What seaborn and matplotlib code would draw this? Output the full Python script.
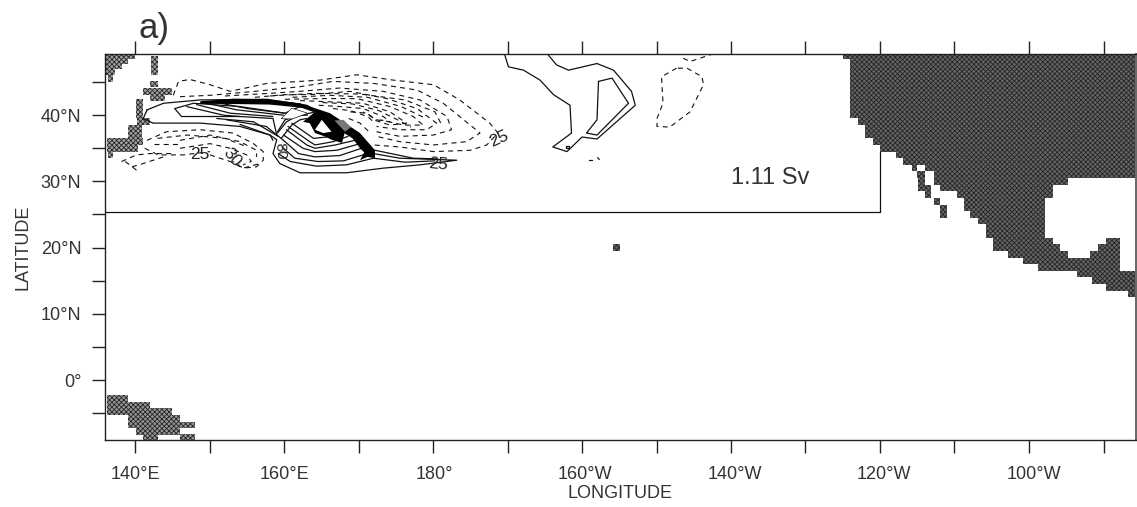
import pandas as pd
import matplotlib
matplotlib.use("Agg")
import matplotlib.pyplot as plt
from matplotlib.transforms import ScaledTranslation
import seaborn as sns

sns.set_theme(style="ticks")
plt.rcParams['font.family'] = ['Liberation Sans', 'DejaVu Sans']
plt.rcParams['hatch.linewidth'] = 0.6

xticks_major = [140, 160, 180, 200, 220, 240, 260]
xlabels = ["140°E", "160°E", "180°", "160°W", "140°W", "120°W", "100°W"]
xticks_minor = [150, 170, 190, 210, 230, 250, 270]
yticks_major = [0, 10, 20, 30, 40]
ylabels = ["0°", "10°N", "20°N", "30°N", "40°N"]
yticks_minor = [-5, 5, 15, 25, 35, 45]
label_shift = [0, 0, 1, 3, 4, 4, 5]

lon_scale = 7.5 / 7.45

# land cells: lat, west lon, east lon
east_land = [
    (49, 234.4, 273.4), (48, 235.4, 273.4), (47, 235.4, 273.4), (46, 235.4, 273.4),
    (45, 235.4, 273.4), (44, 235.4, 273.4), (43, 235.4, 273.4), (42, 235.4, 273.4),
    (41, 235.4, 273.4), (40, 235.4, 273.4), (39, 236.4, 273.4), (38, 237.3, 273.4),
    (37, 237.3, 273.4), (36, 238.4, 273.4), (35, 239.3, 273.4), (34, 241.5, 273.4),
    (33, 242.4, 273.4), (32, 243.6, 244.3), (32, 245.3, 273.4), (31, 244.3, 245.3),
    (31, 246.5, 273.4), (30, 244.4, 245.3), (30, 246.5, 264.4), (29, 244.4, 246.2),
    (29, 247.3, 262.4), (28, 245.3, 246.2), (28, 249.6, 262.4), (27, 246.5, 247.3),
    (27, 250.5, 261.3), (26, 247.4, 248.3), (26, 250.5, 261.3), (25, 247.4, 248.3),
    (25, 251.3, 261.3), (24, 252.4, 261.3), (23, 253.4, 261.3), (22, 253.4, 261.3),
    (21, 254.4, 262.4), (21, 269.5, 271.3), (20, 254.4, 263.3), (20, 268.4, 271.3),
    (19, 256.4, 264.4), (19, 267.4, 271.3), (18, 258.4, 271.3), (17, 260.4, 271.3),
    (16, 265.6, 273.4), (15, 267.6, 273.4), (14, 269.5, 273.4), (13, 272.4, 273.4),
]
west_land = [
    (49, 136.1, 140.0), (48.3, 136.1, 139.1), (47.4, 136.1, 138.2), (46.5, 136.1, 137.3),
    (45.5, 136.4, 137.1), (48.5, 142.1, 143.0), (47.5, 142.1, 143.0), (46.6, 142.1, 143.0),
    (44.7, 142.0, 143.0), (43.6, 141.1, 144.9), (42.6, 142.0, 144.0), (42, 140.1, 141.1),
    (41, 140.1, 141.1), (40, 140.1, 141.1), (39, 140.2, 142.0), (38, 139.1, 141.0),
    (37, 139.1, 141.0), (36, 136.2, 141.0), (35, 136.3, 140.4), (34, 136.4, 137.1),
]
south_land = [
    (-2.8, 136.2, 139.0), (-3.8, 136.2, 142.0), (-4.8, 136.2, 144.9), (-5.8, 139.1, 146.0),
    (-6.8, 139.1, 148.0), (-7.8, 140.1, 146.0), (-8.7, 141.1, 143.0), (-8.7, 146.0, 148.0),
]
hawaii = [(20, 203.7, 204.6)]

# solid contours
solid_outer = [(141.6, 40.8), (143.8, 41.8), (148.7, 42.3), (157.6, 42.4), (162.9, 41.5), (166.4, 39.3),
               (169.5, 36.8), (171.8, 34.2), (175.3, 33.5), (182.9, 33.2), (178.0, 32.5), (173.1, 32.0),
               (168.2, 31.3), (162.0, 31.3), (159.3, 32.7), (158.4, 34.2), (158.9, 36.3), (158.0, 37.0),
               (154.0, 38.3), (148.7, 38.8), (142.4, 38.8), (141.1, 39.5), (141.6, 40.8)]
solid_core = [(145.3, 41.0), (146.2, 39.8), (154.0, 39.8), (158.4, 39.5), (158.9, 37.0)]
solid_core_top = [(145.3, 41.0), (147.8, 41.8), (154.0, 41.3), (160.0, 40.3), (162.0, 41.3), (164.0, 40.5),
                  (161.5, 39.8), (160.0, 39.3), (159.0, 37.5)]
west_1 = [(146.9, 41.3), (151.8, 40.0), (154.0, 39.8)]
west_2 = [(148.2, 41.6), (152.7, 40.3), (158.4, 39.8)]
west_3 = [(149.6, 41.8), (153.6, 40.8), (159.8, 40.0)]
west_4 = [(151.0, 41.9), (155.0, 41.0), (160.0, 40.3)]
low_1 = [(150.9, 39.5), (155.8, 39.0), (159.1, 36.8)]
low_2 = [(152.2, 39.3), (157.5, 38.3), (159.8, 36.2)]
low_3 = [(154.0, 38.6), (158.0, 37.0), (158.4, 36.2)]
arc_a = [(159.1, 34.2), (160.7, 33.0), (164.2, 32.3), (168.2, 32.5), (171.8, 33.5)]
arc_b = [(159.6, 35.2), (161.3, 33.5), (164.4, 33.0), (167.8, 33.1), (170.4, 34.0)]
arc_c = [(159.8, 36.2), (161.8, 34.2), (164.0, 33.7), (167.3, 33.9), (170.2, 35.0)]
arc_d = [(159.8, 37.0), (162.4, 35.0), (164.0, 34.5), (166.9, 34.7), (170.0, 35.7)]
arc_e = [(160.2, 37.8), (162.9, 35.5), (164.0, 35.0), (166.7, 35.5), (169.3, 36.2)]
arc_f = [(160.4, 38.3), (163.3, 36.0), (164.0, 35.5), (166.4, 36.0), (168.4, 36.8)]
arc_g = [(160.9, 38.8), (163.8, 36.5), (166.4, 36.8), (167.5, 37.2)]
arc_h = [(159.0, 37.3), (160.2, 39.0), (161.8, 40.0), (163.0, 40.0)]
arc_i = [(159.5, 36.5), (160.9, 38.5), (162.0, 39.3), (162.9, 39.5)]
east_tail_1 = [(172.0, 34.7), (177.1, 33.5), (180.2, 33.4)]
east_tail_2 = [(171.8, 33.5), (176.0, 32.9), (180.0, 33.1)]
mid_loop = [(189.3, 49.1), (189.8, 47.3), (191.8, 46.8), (194.0, 45.3), (195.8, 43.1), (198.0, 41.5),
            (198.2, 37.3), (195.7, 35.2), (197.6, 34.5), (199.6, 36.7), (201.6, 36.4), (206.7, 41.5),
            (206.2, 43.6), (203.8, 46.8), (201.6, 47.8), (197.8, 46.8), (196.2, 47.6), (195.1, 49.1)]
mid_inner = [(201.8, 45.1), (203.6, 45.6), (205.8, 41.8), (201.6, 37.0), (200.2, 37.3), (201.6, 39.3), (201.8, 45.1)]
mid_ring = [(197.4, 35.3), (197.8, 35.3), (197.8, 35.0), (197.4, 35.0), (197.4, 35.3)]
mid_dot_1 = [(200.6, 33.3), (200.9, 33.3)]
mid_dot_2 = [(201.7, 33.6), (201.9, 33.3)]
box = [(136, 25.4), (239.3, 25.4), (239.3, 34.5)]

# dashed contours
gyre_1 = [(145.1, 43.0), (145.8, 45.1), (147.3, 45.4), (150.0, 44.6), (152.7, 43.6), (157.6, 44.8), (162.0, 45.1),
          (164.7, 45.3), (169.6, 46.1), (174.4, 45.3), (179.8, 44.6), (183.3, 42.3), (187.3, 38.8), (188.4, 37.3),
          (186.9, 35.5), (184.7, 34.7), (179.8, 34.5), (175.3, 35.2), (171.8, 35.5)]
gyre_2 = [(146.0, 42.8), (150.0, 43.0), (156.0, 43.6), (162.0, 44.3), (166.4, 45.1), (171.8, 44.8), (177.6, 43.8),
          (181.1, 41.8), (184.7, 38.5), (186.0, 37.3), (184.2, 36.0), (179.8, 35.5), (175.3, 36.0), (172.2, 36.8)]
gyre_3 = [(152.0, 42.9), (158.0, 43.3), (162.0, 43.6), (167.3, 44.1), (173.1, 43.6), (178.0, 42.3), (181.6, 39.8),
          (182.2, 37.8), (179.8, 37.0), (175.3, 36.8), (172.2, 37.5)]
gyre_4 = [(156.0, 42.7), (160.0, 43.1), (163.3, 43.1), (168.7, 43.6), (173.6, 42.5), (177.6, 41.0), (180.2, 38.8),
          (178.9, 37.8), (175.3, 37.8), (172.2, 38.3)]
gyre_5 = [(160.0, 42.4), (164.7, 42.5), (169.6, 42.5), (174.0, 41.3), (177.1, 39.8), (178.4, 38.5), (175.8, 38.5), (172.7, 39.3)]
gyre_6 = [(162.0, 42.2), (166.4, 42.0), (170.4, 41.8), (174.0, 40.5), (176.2, 38.8), (174.0, 38.5), (171.8, 39.3)]
gyre_7 = [(164.5, 41.5), (167.3, 41.3), (170.4, 41.0), (173.1, 39.8), (174.0, 39.0), (172.2, 39.3), (170.4, 40.5)]
gyre_8 = [(168.7, 40.5), (170.9, 40.3), (172.2, 39.3)]
gyre_9 = [(158.0, 42.9), (164.0, 43.3), (170.0, 43.2), (176.0, 42.3), (180.0, 40.5), (181.0, 38.3)]
gyre_10 = [(161.0, 42.7), (166.0, 43.0), (171.0, 42.7), (175.5, 41.3), (178.8, 39.5)]
gyre_11 = [(165.0, 41.9), (169.0, 41.7), (172.5, 40.7), (175.0, 39.3), (176.8, 38.2)]
gyre_12 = [(166.4, 41.0), (168.7, 40.7), (171.0, 39.8), (172.0, 38.8)]
gyre_13 = [(168.5, 39.5), (170.0, 38.8), (171.2, 37.5)]
patch_loop = [(212.2, 47.1), (210.2, 45.8), (210.4, 41.8), (209.6, 39.5), (209.6, 38.3), (211.3, 38.2), (214.0, 40.5),
              (215.8, 44.6), (215.6, 45.8), (213.6, 47.1), (212.2, 47.1)]
patch_top = [(213.1, 48.6), (214.0, 48.1), (216.9, 49.2)]
south_1 = [(141.6, 36.2), (144.2, 37.5), (148.7, 37.8), (153.1, 37.3), (155.8, 35.7), (157.1, 34.5), (157.1, 33.2),
           (156.2, 32.2), (154.4, 32.0), (153.1, 33.0)]
south_2 = [(146.0, 36.2), (150.0, 37.0), (154.0, 36.0), (156.2, 34.7), (156.2, 33.7)]
south_3 = [(146.0, 35.0), (150.0, 35.7), (152.7, 35.0), (154.9, 34.0), (155.5, 33.0), (154.4, 32.5)]
south_4 = [(141.3, 35.0), (143.1, 34.0), (146.4, 34.0), (150.0, 34.5)]
south_5 = [(138.2, 33.0), (140.2, 34.0), (142.0, 34.2), (145.1, 34.2)]
south_6 = [(139.6, 32.2), (141.1, 32.7), (143.8, 33.7)]
south_7 = [(138.7, 33.0), (140.2, 31.7)]
south_8 = [(150.0, 34.0), (152.7, 33.0), (154.4, 32.0), (156.7, 32.7)]
south_9 = [(143.0, 36.5), (147.0, 37.0), (152.0, 36.5), (155.0, 35.2)]
south_10 = [(142.5, 35.6), (146.0, 35.6)]

# filled black parts of the crowded contours
band_top = [(148.7, 42.1), (153.1, 42.5), (157.6, 42.4), (162.0, 41.8), (166.0, 40.3), (170.0, 37.3), (172.0, 34.7),
            (170.9, 34.0), (170.0, 35.0), (169.0, 36.5), (165.5, 39.0), (163.8, 40.6), (162.4, 41.1), (158.0, 41.6),
            (152.0, 41.7), (148.7, 41.7)]
core_blob = [(162.4, 39.0), (164.0, 40.5), (166.4, 39.0), (168.0, 37.5), (167.6, 35.8), (166.2, 36.3), (165.3, 36.8),
             (164.0, 37.3), (163.3, 38.8)]
core_hole = [(164.0, 37.8), (164.9, 39.3), (166.2, 37.5), (165.1, 37.3)]
south_tip = [(170.0, 33.2), (171.1, 35.5), (172.0, 34.7), (172.0, 33.5), (171.0, 33.7)]
small_star = [(159.6, 39.5), (160.9, 41.0), (162.9, 40.3), (161.0, 39.5)]
grey_patch = [(166.6, 39.2), (167.8, 39.3), (168.8, 38.2), (168.0, 37.5)]

solid_lines = [solid_outer, solid_core, solid_core_top, west_1, west_2, west_3, west_4, low_1, low_2, low_3,
               arc_a, arc_b, arc_c, arc_d, arc_e, arc_f, arc_g, arc_h, arc_i, east_tail_1, east_tail_2,
               mid_loop, mid_inner, mid_ring, mid_dot_1, mid_dot_2, box]
dashed_lines = [gyre_1, gyre_2, gyre_3, gyre_4, gyre_5, gyre_6, gyre_7, gyre_8, gyre_9, gyre_10, gyre_11,
                gyre_12, gyre_13, patch_loop, patch_top, south_1, south_2, south_3, south_4, south_5,
                south_6, south_7, south_8, south_9, south_10]


def fix_lon(v):
    return 140 + (v - 140) * lon_scale


def draw_line(ax, pts, **kw):
    d = pd.DataFrame(pts, columns=["lon", "lat"])
    d["lon"] = fix_lon(d["lon"])
    sns.lineplot(data=d, x="lon", y="lat", sort=False, estimator=None, color="#111111", ax=ax, **kw)


def draw_poly(ax, pts, **kw):
    d = pd.DataFrame(pts, columns=["lon", "lat"])
    ax.fill(fix_lon(d["lon"]), d["lat"], linewidth=0, **kw)


fig = plt.figure(figsize=(11.37, 5.07), dpi=100)
ax = fig.add_axes([105 / 1137, 1 - 440 / 507, 1030.5 / 1137, 386 / 507])

for rows, face in [(east_land, "#666666"), (west_land, "#a2a2a2"), (south_land, "#969696"), (hawaii, "#666666")]:
    land = pd.DataFrame(rows, columns=["lat", "west", "east"])
    ax.barh(land["lat"], fix_lon(land["east"]) - fix_lon(land["west"]), left=fix_lon(land["west"]), height=1.0,
            color=face, edgecolor="#262626", hatch="xxxxxxx", linewidth=0, zorder=1)

for pts in solid_lines:
    draw_line(ax, pts, linewidth=0.9)
for pts in dashed_lines:
    draw_line(ax, pts, linewidth=0.8, dashes=(4.5, 3.8))

draw_poly(ax, small_star, color="white", zorder=2.5)
draw_line(ax, small_star + small_star[:1], linewidth=0.9)
for poly in [band_top, core_blob, south_tip]:
    draw_poly(ax, poly, color="black", zorder=3)
draw_poly(ax, core_hole, color="white", zorder=4)
draw_poly(ax, grey_patch, color="#777777", zorder=3)

lab = dict(color="#222222", ha="center", va="center", zorder=5)
ax.text(fix_lon(148.6), 34.1, "25", fontsize=12.5, **lab)
ax.text(fix_lon(152.9), 33.6, "30", fontsize=12.5, rotation=-50, **lab)
ax.text(fix_lon(180.4), 32.6, "25", fontsize=12.5, rotation=-5, **lab)
ax.text(fix_lon(188.5), 36.4, "25", fontsize=12.5, rotation=25, **lab)
ax.text(fix_lon(159.4), 34.6, "80", fontsize=11, rotation=-85, **lab)
ax.text(fix_lon(224.7), 30.5, "1.11 Sv", fontsize=17, color="#333333", ha="center", va="center", zorder=5)
ax.text(fix_lon(140.4), 51.7, "a)", fontsize=25, color="#333333", ha="left", va="baseline", clip_on=False)

ax.set_xlim(140 - 30 / 7.45, 140 + 1000.5 / 7.45)
ax.set_ylim(-9.06, 49.24)
ax.set_xticks(xticks_major, xlabels)
ax.set_xticks(xticks_minor, minor=True)
ax.set_yticks(yticks_major, ylabels)
ax.set_yticks(yticks_minor, minor=True)
ax.tick_params(axis="both", which="both", length=9.5, width=1, color="#222222", top=True, right=True,
               labelsize=13, labelcolor="#333333", pad=9)
ax.tick_params(axis="y", which="both", pad=7.5)
for lbl, dx in zip(ax.get_xticklabels(), label_shift):
    lbl.set_transform(lbl.get_transform() + ScaledTranslation(dx / 100, 0, fig.dpi_scale_trans))
ax.set_xlabel("LONGITUDE", fontsize=13, color="#333333", labelpad=2)
ax.set_ylabel("LATITUDE", fontsize=13, color="#333333", labelpad=7)
for s in ax.spines.values():
    s.set_linewidth(1)
    s.set_color("#222222")
ax.spines["right"].set_linewidth(1.4)
ax.spines["right"].set_color("#666666")

fig.savefig("out.png", dpi=100)
